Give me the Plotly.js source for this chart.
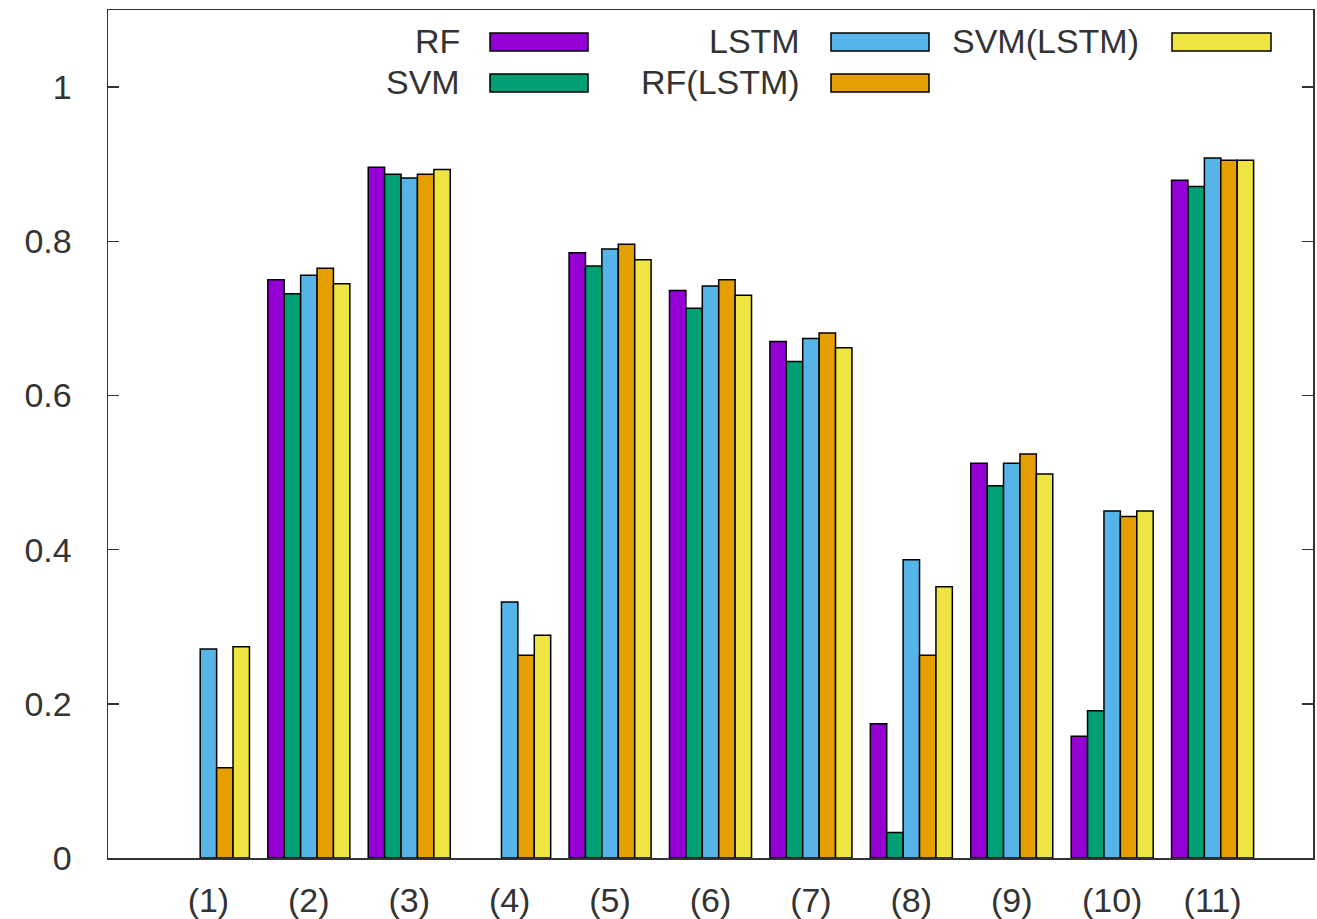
<!DOCTYPE html>
<html>
<head>
<meta charset="utf-8">
<script src="https://cdn.plot.ly/plotly-3.0.1.min.js"></script>
<style>html,body{margin:0;padding:0;background:#fff;}#chart{width:1317px;height:919px;}</style>
</head>
<body>
<div id="chart"></div>
<script>
// ---- data ----
const categories = ["(1)","(2)","(3)","(4)","(5)","(6)","(7)","(8)","(9)","(10)","(11)"];
const seriesNames = ["RF","SVM","LSTM","RF(LSTM)","SVM(LSTM)"];
const rfValues      = [null, 0.750, 0.896, null, 0.785, 0.736, 0.670, 0.174, 0.512, 0.158, 0.879];
const svmValues     = [null, 0.732, 0.887, null, 0.768, 0.713, 0.644, 0.033, 0.483, 0.191, 0.871];
const lstmValues    = [0.271, 0.756, 0.882, 0.332, 0.790, 0.742, 0.674, 0.387, 0.512, 0.450, 0.908];
const rfLstmValues  = [0.117, 0.765, 0.887, 0.263, 0.796, 0.750, 0.681, 0.263, 0.524, 0.443, 0.905];
const svmLstmValues = [0.274, 0.745, 0.893, 0.289, 0.776, 0.730, 0.662, 0.352, 0.498, 0.450, 0.905];
const yTickVals = [0, 0.2, 0.4, 0.6, 0.8, 1];
const yTickText = ["0", "0.2", "0.4", "0.6", "0.8", "1"];

const colors = ["#9400D3", "#009E73", "#56B4E9", "#E69F00", "#F0E442"];
const allValues = [rfValues, svmValues, lstmValues, rfLstmValues, svmLstmValues];

const traces = allValues.map((vals, i) => ({
  type: "bar",
  name: seriesNames[i],
  x: categories,
  y: vals,
  marker: {color: colors[i], line: {color: "#000", width: 1.5}},
  showlegend: false,
  hoverinfo: "x+y+name"
}));

// plot-area geometry (pixels)
const W = 1317, H = 919;
const L = 108, R = 4, T = 10, B = 61;
const pw = W - L - R, ph = H - T - B;
const px = x => (x - L) / pw;
const py = y => (H - B - y) / ph;
const FONT = "Liberation Sans, Arial, sans-serif";
const FS = 34;

// manual legend (text left of swatch, gnuplot style)
const legendItems = [
  {textRight: 462, swL: 490, swR: 588, yTop: 33},
  {textRight: 462, swL: 490, swR: 588, yTop: 74},
  {textRight: 802, swL: 831, swR: 929, yTop: 33},
  {textRight: 802, swL: 831, swR: 929, yTop: 74},
  {textRight: 1141, swL: 1172, swR: 1271, yTop: 33}
];
const shapes = [];
const annotations = [];
legendItems.forEach((it, i) => {
  shapes.push({
    type: "rect", xref: "paper", yref: "paper",
    x0: px(it.swL), x1: px(it.swR), y0: py(it.yTop + 18), y1: py(it.yTop),
    fillcolor: colors[i], line: {color: "#000", width: 1.5}
  });
  annotations.push({
    xref: "paper", yref: "paper", x: px(it.textRight), y: py(it.yTop + 8),
    xanchor: "right", yanchor: "middle", showarrow: false,
    text: seriesNames[i],
    font: {family: FONT, size: FS, color: "#333"}
  });
});

const layout = {
  width: W, height: H,
  margin: {l: L, r: R, t: T, b: B, pad: 0},
  paper_bgcolor: "#fff", plot_bgcolor: "#fff",
  barmode: "group", bargap: 0.183, bargroupgap: 0,
  font: {family: FONT, size: FS, color: "#333"},
  xaxis: {
    type: "category", range: [-1, 11],
    showline: true, mirror: true, linecolor: "#333", linewidth: 1.5,
    showgrid: false, zeroline: false, ticks: "",
    ticklabelstandoff: 12,
    tickfont: {size: FS, color: "#333"}
  },
  yaxis: {
    range: [0, 1.1],
    showline: true, mirror: "ticks", linecolor: "#333", linewidth: 1.5,
    showgrid: false, zeroline: false,
    ticks: "inside", ticklen: 11, tickwidth: 1.5, tickcolor: "#333",
    tickvals: yTickVals, ticktext: yTickText,
    ticklabelstandoff: 28,
    tickfont: {size: FS, color: "#333"}
  },
  shapes: shapes,
  annotations: annotations
};

Plotly.newPlot("chart", traces, layout, {displayModeBar: false, staticPlot: true});
</script>
</body>
</html>
